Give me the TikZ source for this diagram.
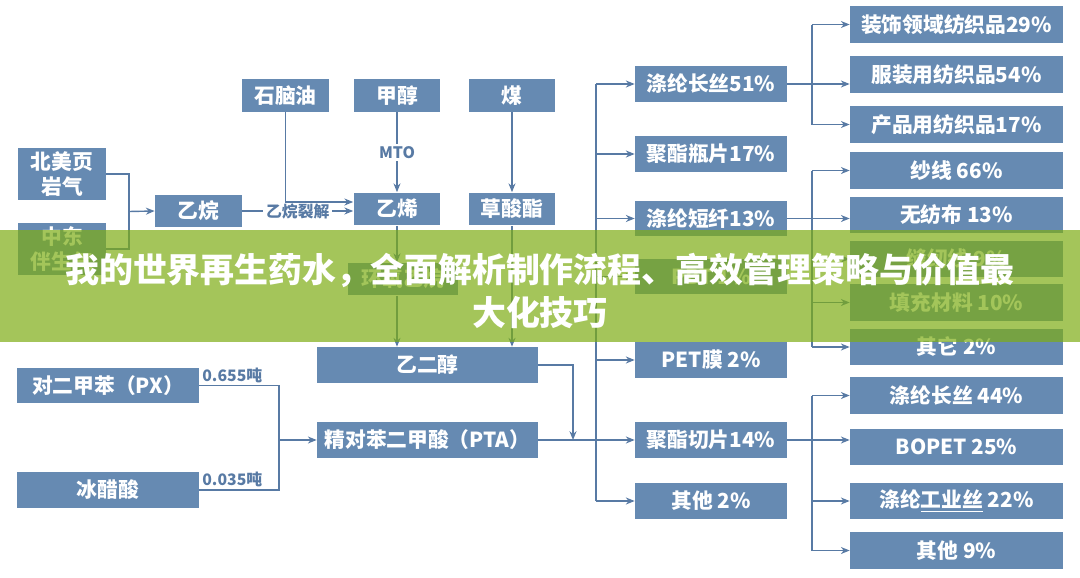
\documentclass[tikz,border=0pt]{standalone}
\usepackage{fontspec}
\setmainfont{Noto Sans CJK SC}
\usetikzlibrary{arrows.meta}

\definecolor{boxblue}{RGB}{102,138,178}
\definecolor{lineblue}{RGB}{88,122,164}
\definecolor{bannergreen}{RGB}{125,173,20}

\begin{document}
\begin{tikzpicture}[x=0.02cm, y=-0.02cm]
        \tikzset{box/.style = {fill=boxblue, text=white, inner sep=0pt, align=center,
                               font=\fontsize{11.8}{14}\selectfont\bfseries},
                 small/.style = {box, minimum width=1.74cm, minimum height=0.66cm},
                 tall/.style = {box, minimum width=1.76cm, minimum height=1.04cm},
                 wide/.style = {box, minimum width=4.42cm, minimum height=0.72cm},
                 feed/.style = {box, minimum width=3.64cm, minimum height=0.72cm},
                 mid/.style = {box, minimum width=3.04cm, minimum height=0.72cm},
                 leaf/.style = {box, minimum width=4.26cm, minimum height=0.74cm},
                 lbl/.style = {text=lineblue, inner sep=1.5pt, font=\fontsize{9}{10}\selectfont\bfseries},
                 >={Stealth[length=5pt, width=4pt]}}

        \useasboundingbox (0,0) rectangle (1080,578);

        % sources
        \node[tall] (bm) at (62,174) {北美页\\岩气};
        \node[tall] (zd) at (62,249) {中东\\伴生气};
        \node[small] (ew) at (198.5,211) {乙烷};

        \node[small] (sn) at (285.5,95.5) {石脑油};
        \node[small] (jc) at (397,95.5) {甲醇};
        \node[small] (mt) at (512,95.5) {煤};

        \node[small] (ey) at (397,209) {乙烯};
        \node[small] (cs) at (512,209) {草酸酯};
        \node[small, minimum width=2.2cm] (hy) at (403,279) {环氧乙烷};

        \node[wide] (eg) at (427.5,365) {乙二醇};
        \node[wide] (pta) at (427.5,440) {精对苯二甲酸（PTA）};

        \node[feed] (px) at (108,385.5) {对二甲苯（PX）};
        \node[feed] (bc) at (108,490) {冰醋酸};

        % polyester products
        \node[mid] (fl) at (711,84) {涤纶长丝51\%};
        \node[mid] (jp) at (711,154) {聚酯瓶片17\%};
        \node[mid] (dd) at (711,218.5) {涤纶短纤13\%};
        \node[mid] (pb) at (711,276.5) {PBT 1\%};
        \node[mid] (pm) at (711,360) {PET膜 2\%};
        \node[mid] (qp) at (711,440) {聚酯切片14\%};
        \node[mid] (qt) at (711,501) {其他 2\%};

        \node[leaf] (zs) at (956.5,24.5) {装饰领域纺织品29\%};
        \node[leaf] (fz) at (956.5,74.5) {服装用纺织品54\%};
        \node[leaf] (cp) at (956.5,124.5) {产品用纺织品17\%};

        \node[leaf] (sx) at (956.5,170.5) {纱线 66\%};
        \node[leaf] (wf) at (956.5,215) {无纺布 13\%};
        \node[leaf] (fr) at (956.5,259) {缝纫线 9\%};
        \node[leaf] (tc) at (956.5,302.5) {填充材料 10\%};
        \node[leaf] (qa) at (956.5,347) {其它 2\%};

        \node[leaf] (dl) at (956.5,395.5) {涤纶长丝 44\%};
        \node[leaf] (bo) at (956.5,447) {BOPET 25\%};
        \node[leaf] (gy) at (956.5,501) {涤纶\underline{工业丝} 22\%};
        \node[leaf] (qb) at (956.5,550.5) {其他 9\%};

        \coordinate (j1) at (129,211.5);
        \coordinate (j2) at (279,440);
        \coordinate (j3) at (573,440);
        \coordinate (tk) at (596,0);
        \coordinate (bus) at (812,0);

        \begin{scope}[draw=lineblue, line width=0.8pt]
        \draw (bm.east) -| (j1);
        \draw (zd.east) -| (j1);
        \draw[->] (j1) -- (ew.west);
        \draw[->] (ew) -- node[lbl, fill=white] {乙烷裂解} (ew -| ey.west);
        \draw[->] (sn.south) |- ([yshift=0.14cm]ey.west);
        \draw[->] (jc) -- node[lbl, fill=white] {MTO} (ey);
        \draw (mt) edge[->] (cs);
        \draw[->] (ey.south) -- (ey.south |- hy.north);
        \draw[->] (ey.south |- hy.south) -- (ey.south |- eg.north);
        \draw[->] (cs.south) -- (cs.south |- eg.north);

        \draw (px.east) -| (j2);
        \draw (bc.east) -| (j2);
        \draw[->] (j2) -- (pta.west);
        \draw[->] (eg.east) -| (j3);
        \draw (pta.east) -- (pta.east -| tk);

        \draw (fl.west -| tk) -- (qt.west -| tk);
        \foreach \n in {fl,jp,dd,pb,pm,qp,qt}
            \draw[->] (\n.west -| tk) -- (\n.west);

        \draw (fl.east) -- (fl.east -| bus);
        \draw (dd.east) -- (dd.east -| bus);
        \draw (qp.east) -- (qp.east -| bus);
        \draw (zs.west -| bus) -- (cp.west -| bus);
        \draw (sx.west -| bus) -- (qa.west -| bus);
        \draw (dl.west -| bus) -- (qb.west -| bus);
        \draw[->] (fl.east -| bus) -- (fl.east -| fz.west);
        \draw[->] (dd.east -| bus) -- (dd.east -| wf.west);
        \draw[->] (qp.east -| bus) -- (qp.east -| bo.west);
        \foreach \n in {zs,cp,sx,fr,tc,qa,dl,gy,qb}
            \draw[->] (\n.west -| bus) -- (\n.west);
        \end{scope}

        \node[lbl, anchor=south west] (t1) at (px.east) {0.655吨};
        \node[lbl, anchor=south west] (t2) at (bc.east) {0.035吨};

        % title banner
        \fill[bannergreen, opacity=0.7] (0,230) rectangle (1080,342);
        \node[text=white, align=center, font=\fontsize{19.3}{24.5}\selectfont\bfseries] (title) at (540,291)
            {我的世界再生药水，全面解析制作流程、高效管理策略与价值最\\大化技巧};

\end{tikzpicture}
\end{document}
